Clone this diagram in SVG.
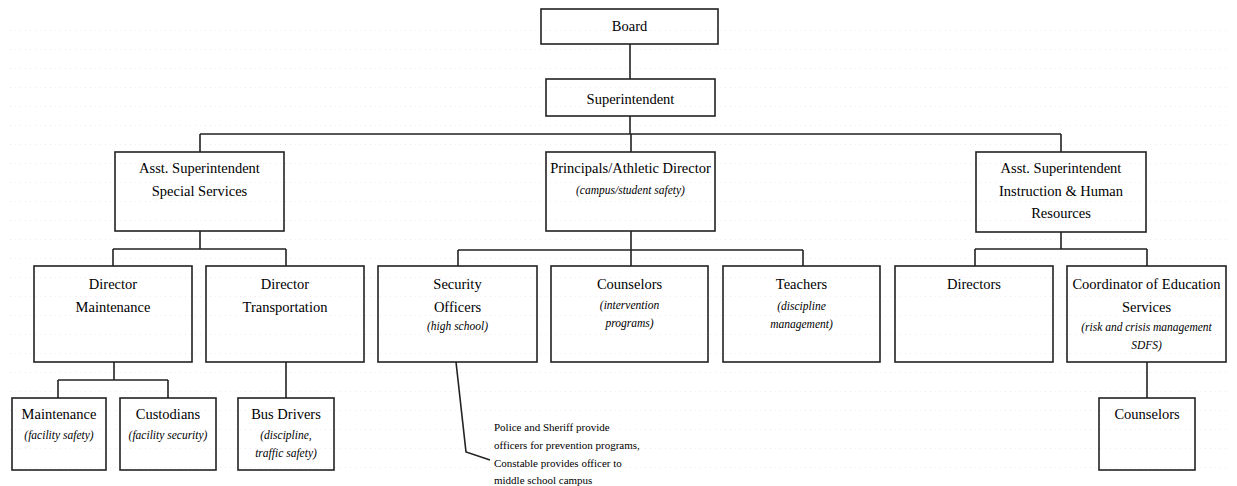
<svg xmlns="http://www.w3.org/2000/svg" width="1237" height="486" viewBox="0 0 1237 486">
<style>
.box{fill:none;stroke:#222;stroke-width:1.6}
.c{fill:none;stroke:#222;stroke-width:1.6}
.t{font-family:"Liberation Serif","Times New Roman",serif;font-size:14.5px;fill:#000;text-anchor:middle}
.i{font-family:"Liberation Serif","Times New Roman",serif;font-size:11.5px;font-style:italic;fill:#000;text-anchor:middle}
.n{font-family:"Liberation Serif","Times New Roman",serif;font-size:11px;fill:#000}
</style>
<defs>
<pattern id="dots" x="10" y="30" width="5" height="19" patternUnits="userSpaceOnUse">
<rect x="0" y="0" width="1" height="1" fill="#f8e2f6"/>
</pattern>
</defs>
<rect x="0" y="0" width="1237" height="486" fill="#fff"/>
<rect x="10" y="28" width="1220" height="455" fill="url(#dots)"/>
<g id="connectors">
<path class="c" d="M630 44V79M630 116V134M200 134H1061M200 134V152M631 134V152M1061 134V152"/>
<path class="c" d="M200 231V249M113 249H286M113 249V266M286 249V266"/>
<path class="c" d="M631 231V250M458 250H803M458 250V266M631 250V266M803 250V266"/>
<path class="c" d="M1061 232V249M975 249H1147M975 249V266M1147 249V266"/>
<path class="c" d="M114 362V380M58 380H168M58 380V398M168 380V398"/>
<path class="c" d="M286 362V398M1147 362V398"/>
<path class="c" d="M456 362L466 452L490 460"/>
</g>
<g id="board"><rect class="box" x="541" y="9" width="177" height="35"/><text class="t" x="629.5" y="31">Board</text></g>
<g id="superintendent"><rect class="box" x="546" y="79" width="169" height="37"/><text class="t" x="630.5" y="104">Superintendent</text></g>
<g id="asst-special"><rect class="box" x="115" y="152" width="169" height="79"/><text class="t" x="199.5" y="173">Asst. Superintendent</text><text class="t" x="199.5" y="196">Special Services</text></g>
<g id="principals"><rect class="box" x="546" y="152" width="169" height="79"/><text class="t" x="630.5" y="173">Principals/Athletic Director</text><text class="i" x="630.5" y="194">(campus/student safety)</text></g>
<g id="asst-instruction"><rect class="box" x="976" y="152" width="170" height="80"/><text class="t" x="1061" y="173">Asst. Superintendent</text><text class="t" x="1061" y="196">Instruction &amp; Human</text><text class="t" x="1061" y="218">Resources</text></g>
<g id="dir-maintenance"><rect class="box" x="34" y="266" width="158" height="96"/><text class="t" x="113" y="289">Director</text><text class="t" x="113" y="312">Maintenance</text></g>
<g id="dir-transportation"><rect class="box" x="206" y="266" width="158" height="96"/><text class="t" x="285" y="289">Director</text><text class="t" x="285" y="312">Transportation</text></g>
<g id="security"><rect class="box" x="378" y="266" width="159" height="96"/><text class="t" x="457.5" y="289">Security</text><text class="t" x="457.5" y="312">Officers</text><text class="i" x="457.5" y="330">(high school)</text></g>
<g id="counselors-mid"><rect class="box" x="551" y="266" width="157" height="96"/><text class="t" x="629.5" y="289">Counselors</text><text class="i" x="629.5" y="309">(intervention</text><text class="i" x="629.5" y="327">programs)</text></g>
<g id="teachers"><rect class="box" x="723" y="266" width="157" height="96"/><text class="t" x="801.5" y="289">Teachers</text><text class="i" x="801.5" y="310">(discipline</text><text class="i" x="801.5" y="328">management)</text></g>
<g id="directors"><rect class="box" x="895" y="266" width="158" height="96"/><text class="t" x="974" y="289">Directors</text></g>
<g id="coordinator"><rect class="box" x="1067" y="266" width="159" height="96"/><text class="t" x="1146.5" y="289">Coordinator of Education</text><text class="t" x="1146.5" y="312">Services</text><text class="i" x="1146.5" y="331">(risk and crisis management</text><text class="i" x="1146.5" y="349">SDFS)</text></g>
<g id="maintenance"><rect class="box" x="12" y="398" width="94" height="72"/><text class="t" x="59" y="419">Maintenance</text><text class="i" x="59" y="439">(facility safety)</text></g>
<g id="custodians"><rect class="box" x="120" y="398" width="96" height="72"/><text class="t" x="168" y="419">Custodians</text><text class="i" x="168" y="439">(facility security)</text></g>
<g id="bus-drivers"><rect class="box" x="238" y="398" width="96" height="72"/><text class="t" x="286" y="419">Bus Drivers</text><text class="i" x="286" y="439">(discipline,</text><text class="i" x="286" y="457">traffic safety)</text></g>
<g id="counselors-right"><rect class="box" x="1099" y="398" width="96" height="72"/><text class="t" x="1147" y="419">Counselors</text></g>
<g id="note"><text class="n" x="494" y="431">Police and Sheriff provide</text><text class="n" x="494" y="449">officers for prevention programs,</text><text class="n" x="494" y="467">Constable provides officer to</text><text class="n" x="494" y="484">middle school campus</text></g>
</svg>
